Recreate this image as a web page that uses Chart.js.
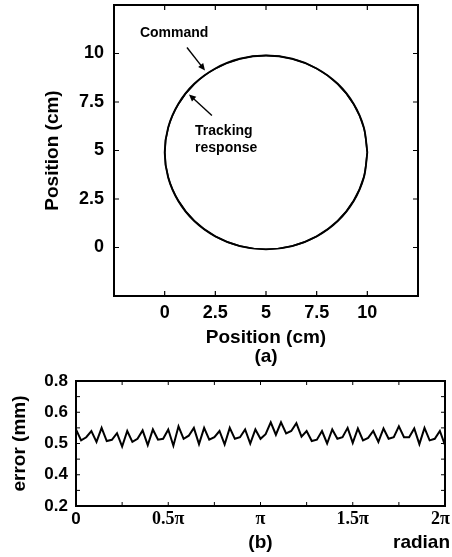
<!DOCTYPE html>
<html>
<head>
<meta charset="utf-8">
<script src="https://cdn.jsdelivr.net/npm/chart.js@4/dist/chart.umd.min.js"></script>
<style>
  html, body { margin: 0; padding: 0; background: #fff; }
  body { width: 452px; height: 557px; position: relative; overflow: hidden; }
  canvas { position: absolute; left: 0; }
  #top { top: 0; }
  #bot { top: 366px; }
</style>
</head>
<body>
<canvas id="top" width="452" height="366"></canvas>
<canvas id="bot" width="452" height="191"></canvas>
<script>
// ---------- Data: (a) circular trajectory ----------
const commandX  = [10, 9.83, 9.33, 8.54, 7.5, 6.29, 5, 3.71, 2.5, 1.46, 0.67, 0.17, 0, 0.17, 0.67, 1.46, 2.5, 3.71, 5, 6.29, 7.5, 8.54, 9.33, 9.83, 10];
const commandY  = [4.9, 6.19, 7.4, 8.44, 9.23, 9.73, 9.9, 9.73, 9.23, 8.44, 7.4, 6.19, 4.9, 3.61, 2.4, 1.36, 0.57, 0.07, -0.1, 0.07, 0.57, 1.36, 2.4, 3.61, 4.9];
const responseX = [10, 9.82, 9.32, 8.53, 7.5, 6.29, 5, 3.71, 2.51, 1.47, 0.68, 0.18, 0.01, 0.18, 0.68, 1.47, 2.5, 3.71, 5, 6.29, 7.5, 8.53, 9.32, 9.82, 10];
const responseY = [4.9, 6.18, 7.39, 8.43, 9.22, 9.72, 9.89, 9.72, 9.22, 8.43, 7.39, 6.18, 4.9, 3.62, 2.41, 1.37, 0.58, 0.08, -0.09, 0.08, 0.58, 1.37, 2.41, 3.62, 4.9];
const posTicks  = [0, 2.5, 5, 7.5, 10];
const posTickLabels = ['0', '2.5', '5', '7.5', '10'];

// ---------- Data: (b) tracking error vs angle ----------
const errorValues = [
  0.545, 0.510, 0.520, 0.540, 0.505, 0.550, 0.508, 0.512, 0.533, 0.490,
  0.540, 0.505, 0.515, 0.542, 0.495, 0.545, 0.512, 0.515, 0.545, 0.493,
  0.555, 0.515, 0.525, 0.550, 0.498, 0.550, 0.512, 0.520, 0.540, 0.497,
  0.550, 0.515, 0.520, 0.545, 0.500, 0.545, 0.515, 0.530, 0.568, 0.528,
  0.568, 0.532, 0.540, 0.565, 0.522, 0.540, 0.508, 0.512, 0.540, 0.500,
  0.545, 0.515, 0.520, 0.550, 0.502, 0.548, 0.510, 0.518, 0.540, 0.505,
  0.548, 0.515, 0.520, 0.555, 0.520, 0.520, 0.548, 0.498, 0.550, 0.510,
  0.515, 0.540, 0.495
];
const angleTicks      = [0, 9, 18, 27, 36, 45, 54, 63, 72];   // sample index; 72 samples = 2π
const angleTickLabels = ['0', '', '0.5π', '', 'π', '', '1.5π', '', '2π\u2002'];
const errTicks        = [0.3, 0.35, 0.4, 0.45, 0.5, 0.55, 0.6, 0.65, 0.7];
const errTickLabels   = ['0.2', '', '0.4', '', '0.5', '', '0.6', '', '0.8'];

// ---------- Shared styling ----------
Chart.defaults.color = '#000';
Chart.defaults.font.family = "'Liberation Sans', Arial, sans-serif";
const SANS = "'Liberation Sans', Arial, sans-serif";
const SERIF = "'Liberation Serif', 'Times New Roman', serif";

const framePlugin = {
  id: 'frame',
  afterDatasetsDraw(chart, args, opts) {
    const { ctx, chartArea: a, scales } = chart;
    ctx.save();
    ctx.strokeStyle = '#000';
    ctx.lineWidth = opts.tickWidth;
    const L = opts.tickLen;
    ctx.beginPath();
    scales.x.ticks.forEach(t => {
      const px = scales.x.getPixelForValue(t.value);
      ctx.moveTo(px, a.bottom); ctx.lineTo(px, a.bottom - L);
      ctx.moveTo(px, a.top); ctx.lineTo(px, a.top + L);
    });
    scales.y.ticks.forEach(t => {
      const py = scales.y.getPixelForValue(t.value);
      ctx.moveTo(a.left, py); ctx.lineTo(a.left + L, py);
      ctx.moveTo(a.right, py); ctx.lineTo(a.right - L, py);
    });
    ctx.stroke();
    ctx.lineWidth = opts.boxWidth;
    ctx.strokeRect(a.left, a.top, a.right - a.left, a.bottom - a.top);
    ctx.restore();
  }
};

function fixY(w) { return s => { s.width = w; s.paddingTop = 0; s.paddingBottom = 0; }; }
function fixX(h) { return s => { s.height = h; s.paddingLeft = 0; s.paddingRight = 0; }; }

// ---------- (a) ----------
const annotPlugin = {
  id: 'annot',
  afterDraw(chart, args, opts) {
    const { ctx, scales: { x, y } } = chart;
    ctx.save();
    ctx.fillStyle = '#000';
    ctx.strokeStyle = '#000';
    ctx.font = 'bold 14px ' + SANS;
    ctx.textAlign = 'left';
    ctx.textBaseline = 'middle';
    opts.texts.forEach(t => ctx.fillText(t.text, x.getPixelForValue(t.x), y.getPixelForValue(t.y)));
    opts.arrows.forEach(ar => {
      const x0 = x.getPixelForValue(ar.from[0]), y0 = y.getPixelForValue(ar.from[1]);
      const x1 = x.getPixelForValue(ar.to[0]), y1 = y.getPixelForValue(ar.to[1]);
      const ang = Math.atan2(y1 - y0, x1 - x0);
      const hl = 7, hw = 3.2;
      ctx.lineWidth = 1.4;
      ctx.beginPath();
      ctx.moveTo(x0, y0);
      ctx.lineTo(x1 - Math.cos(ang) * hl * 0.8, y1 - Math.sin(ang) * hl * 0.8);
      ctx.stroke();
      ctx.beginPath();
      ctx.moveTo(x1, y1);
      ctx.lineTo(x1 - Math.cos(ang) * hl + Math.sin(ang) * hw, y1 - Math.sin(ang) * hl - Math.cos(ang) * hw);
      ctx.lineTo(x1 - Math.cos(ang) * hl - Math.sin(ang) * hw, y1 - Math.sin(ang) * hl + Math.cos(ang) * hw);
      ctx.closePath();
      ctx.fill();
    });
    ctx.restore();
  }
};

new Chart(document.getElementById('top'), {
  type: 'scatter',
  data: {
    datasets: [
      { label: 'Command', data: commandX.map((v, i) => ({ x: v, y: commandY[i] })),
        showLine: true, borderColor: '#000', borderWidth: 1.8, pointRadius: 0, tension: 0.33, fill: false },
      { label: 'Tracking response', data: responseX.map((v, i) => ({ x: v, y: responseY[i] })),
        showLine: true, borderColor: '#000', borderWidth: 1.6, pointRadius: 0, tension: 0.33, fill: false }
    ]
  },
  options: {
    responsive: false, animation: false, events: [],
    layout: { padding: { left: 0, right: 34, top: 5, bottom: 0 } },
    plugins: {
      legend: { display: false }, tooltip: { enabled: false },
      frame: { tickLen: 5, tickWidth: 1.2, boxWidth: 2 },
      annot: {
        texts: [
          { text: 'Command', x: -1.22, y: 11.03 },
          { text: 'Tracking', x: 1.5, y: 5.98 },
          { text: 'response', x: 1.5, y: 5.1 }
        ],
        arrows: [
          { from: [1.1, 10.31], to: [1.99, 9.12] },
          { from: [2.33, 6.8], to: [1.2, 7.89] }
        ]
      }
    },
    scales: {
      x: {
        type: 'linear', min: -2.5, max: 12.5,
        afterBuildTicks: s => { s.ticks = posTicks.map(v => ({ value: v })); },
        afterFit: fixX(70),
        grid: { display: false, drawTicks: false }, border: { display: false },
        ticks: { padding: 6, maxRotation: 0, autoSkip: false, font: { size: 18, weight: 'bold' },
                 callback: (v, i) => posTickLabels[i] },
        title: { display: true, text: ['Position (cm)', '(a)'], font: { size: 19, weight: 'bold', lineHeight: 1 },
                 padding: { top: 0, bottom: 0 } }
      },
      y: {
        type: 'linear', min: -2.5, max: 12.5,
        afterBuildTicks: s => { s.ticks = posTicks.map(v => ({ value: v })); },
        afterFit: fixY(114),
        grid: { display: false, drawTicks: false }, border: { display: false },
        ticks: { padding: 10, autoSkip: false, font: { size: 18, weight: 'bold' },
                 callback: (v, i) => posTickLabels[i] },
        title: { display: true, text: 'Position (cm)', font: { size: 19, weight: 'bold', lineHeight: 1 },
                 padding: { top: 43, bottom: 0 } }
      }
    }
  },
  plugins: [framePlugin, annotPlugin]
});

// ---------- (b) ----------
const radianPlugin = {
  id: 'radian',
  afterDraw(chart) {
    const { ctx } = chart;
    ctx.save();
    ctx.fillStyle = '#000';
    ctx.font = 'bold 19px ' + SANS;
    ctx.textAlign = 'right';
    ctx.textBaseline = 'middle';
    ctx.fillText('radian', chart.width - 2, chart.height - 14);
    ctx.restore();
  }
};

new Chart(document.getElementById('bot'), {
  type: 'line',
  data: {
    datasets: [
      { label: 'error', data: errorValues.map((v, i) => ({ x: i, y: v })),
        borderColor: '#000', borderWidth: 2, pointRadius: 0, tension: 0, fill: false }
    ]
  },
  options: {
    responsive: false, animation: false, events: [],
    layout: { padding: { left: 0, right: 7, top: 15, bottom: 0 } },
    plugins: {
      legend: { display: false }, tooltip: { enabled: false },
      frame: { tickLen: 4, tickWidth: 1, boxWidth: 2 }
    },
    scales: {
      x: {
        type: 'linear', min: 0, max: 72,
        afterBuildTicks: s => { s.ticks = angleTicks.map(v => ({ value: v })); },
        afterFit: fixX(51),
        grid: { display: false, drawTicks: false }, border: { display: false },
        ticks: {
          padding: 3, maxRotation: 0, autoSkip: false,
          font: ctx => ctx.index === 0 ? { family: SANS, size: 17, weight: 'bold' }
                                       : { family: SERIF, size: 18, weight: 'bold' },
          callback: (v, i) => angleTickLabels[i]
        },
        title: { display: true, text: '(b)', font: { size: 19, weight: 'bold', lineHeight: 1 },
                 padding: { top: 0, bottom: 4.5 } }
      },
      y: {
        type: 'linear', min: 0.3, max: 0.7,
        afterBuildTicks: s => { s.ticks = errTicks.map(v => ({ value: v })); },
        afterFit: fixY(76),
        grid: { display: false, drawTicks: false }, border: { display: false },
        ticks: { padding: 8, autoSkip: false, font: { size: 17, weight: 'bold' },
                 callback: (v, i) => errTickLabels[i] },
        title: { display: true, text: 'error (mm)', font: { size: 19, weight: 'bold', lineHeight: 1 },
                 padding: { top: 10.5, bottom: 0 } }
      }
    }
  },
  plugins: [framePlugin, radianPlugin]
});
</script>
</body>
</html>
